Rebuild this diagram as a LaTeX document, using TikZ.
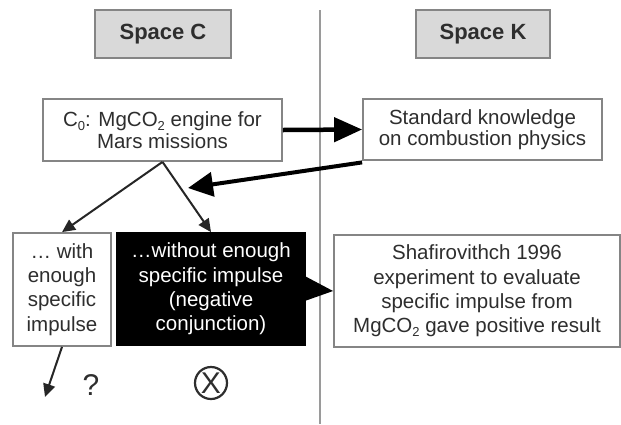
\documentclass[tikz,border=0pt]{standalone}
\usepackage{fontspec}
\setmainfont{Liberation Sans}
\usetikzlibrary{arrows.meta}
\definecolor{txt}{HTML}{2E2E2E}
\definecolor{edge}{HTML}{858585}
\definecolor{hdr}{HTML}{D9D9D9}
\definecolor{sep}{HTML}{9A9A9A}
\newcommand{\mysub}[1]{\raisebox{-0.35ex}{\fontsize{13}{13}\selectfont #1}}
\tikzset{
  box/.style={draw=edge, line width=1.8pt, fill=white, inner sep=0pt, align=center,
    text=txt, font=\fontsize{20.5}{24.3}\selectfont},
  topbox/.style={box, font=\fontsize{20.5}{21.5}\selectfont, minimum width=239pt, minimum height=62pt},
  hdrbox/.style={box, fill=hdr, font=\fontsize{22}{24}\selectfont\bfseries, minimum height=48pt},
  darkbox/.style={box, draw=black, fill=black, text=white},
  bigarrow/.style={line width=4.5pt, -{Triangle[length=28pt,width=24pt]}, black},
  midarrow/.style={line width=4pt, -{Triangle[length=25pt,width=24pt]}, black},
  thinarrow/.style={line width=2pt, -{Triangle[length=13pt,width=12pt]}, black!85},
}
\begin{document}
\begin{tikzpicture}[x=1pt,y=-1pt]
\useasboundingbox (0,0) rectangle (621,424);
\fill[white] (0,0) rectangle (621,424);
\coordinate (ltop) at (320,10);
\coordinate (lbot) at (320,424);
\draw[sep, line width=1.8pt] (ltop) -- (lbot);

\node[hdrbox, minimum width=136pt] (spc) at (163,34) {Space C};
\node[hdrbox, minimum width=134pt] (spk) at (483,34) {Space K};

\node[topbox] (c0) at (162.5,130)
  {C\mysub{0}: MgCO\mysub{2} engine for\\Mars missions};
\node[topbox, minimum height=61pt] (sk) at (482.5,129.5)
  {Standard knowledge\\on combustion physics};

\node[box, minimum width=98pt, minimum height=113pt] (with) at (62,289.5)
  {\dots\ with\\enough\\specific\\impulse};
\node[darkbox, minimum width=188pt, minimum height=112pt] (neg) at (211,289)
  {\dots without enough\\specific impulse\\(negative\\conjunction)};
\node[box, minimum width=286pt, minimum height=112pt] (shaf) at (477,291)
  {Shafirovithch 1996\\experiment to evaluate\\specific impulse from\\MgCO\mysub{2} gave positive result};

\draw[bigarrow] (c0.east) -- (sk.west);
\coordinate (skout) at ([yshift=-1.5pt]sk.south west);
\coordinate (back) at (188,188);
\draw[midarrow] (skout) -- (back);
\draw[thinarrow] (c0.south) -- (with.north);
\draw[thinarrow] (c0.south) -- (neg.north);
\draw[bigarrow, line width=2pt] (neg.east) -- (shaf.west);
\coordinate (down) at (45,397);
\draw[thinarrow] (with.south) -- (down);

\node[text=txt, font=\fontsize{30}{30}\selectfont] (q) at (91,385) {?};
\node[draw=txt, circle, line width=2.2pt, minimum size=32pt, inner sep=0pt,
  font=\fontsize{30}{30}\selectfont, text=txt] (xmark) at (211,383) {X};
\end{tikzpicture}
\end{document}
